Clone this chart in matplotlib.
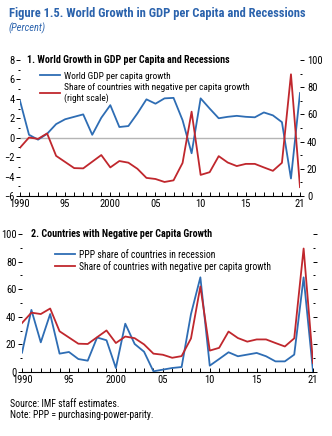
import matplotlib.pyplot as plt
from matplotlib import font_manager
import numpy as np


def pick_font():
    # narrow face with static regular + bold files
    prefs = ['Liberation Sans Narrow', 'Roboto Condensed', 'PT Sans Narrow',
             'IBM Plex Sans Condensed', 'Fira Sans Condensed', 'Open Sans Condensed',
             'Encode Sans Condensed', 'Asap Condensed', 'Barlow Condensed']
    for name in prefs:
        faces = [f for f in font_manager.fontManager.ttflist
                 if f.name == name and '[' not in f.fname and f.style == 'normal']
        ws = set()
        for f in faces:
            w = f.weight
            if isinstance(w, str):
                w = font_manager.weight_dict.get(w, 400)
            ws.add(int(w))
        if 400 in ws and 700 in ws:
            return name
    return 'Liberation Sans'


plt.rcParams['font.family'] = [pick_font(), 'DejaVu Sans']

## data
years = np.arange(1990, 2022)
# world GDP per capita growth (percent, left scale)
gdp_growth = [3.8, 0.3, -0.2, 0.4, 1.4, 1.9, 2.15, 2.4, 0.3, 2.05,
              3.35, 1.1, 1.2, 2.5, 3.95, 3.5, 4.05, 4.1, 1.8, -1.6,
              4.05, 3.0, 2.0, 2.15, 2.25, 2.15, 2.1, 2.6, 2.3, 1.6,
              -4.2, 4.6]
# share of countries with negative per capita growth (percent)
neg_share = [35.5, 43, 42, 46, 29.5, 25, 20.5, 20.3, 25.2, 30.1,
             21, 25.7, 24.5, 20, 13.3, 12.5, 10.3, 11.5, 24.3, 62,
             15.5, 17.5, 29.3, 24.6, 22, 23.6, 23.6, 21, 18.5, 24.4,
             89.5, 6.5]
# PPP share of countries in recession (percent)
ppp_share = [14, 45, 21.5, 42, 13.3, 14.5, 9.4, 8.2, 25, 23,
             2.9, 35, 20.3, 14.7, 0.5, 1.7, 2.9, 3.6, 42, 68.6,
             4.6, 9.4, 14.3, 11.4, 12.6, 13.8, 11.4, 7.7, 7.7, 12.6,
             68.6, 0.5]

xtick_pos = [1990, 1995, 2000, 2005, 2010, 2015, 2021]
xtick_lab = ['1990', '95', '2000', '05', '10', '15', '21']

blue = '#2e6db4'
red = '#c0272d'
title_blue = '#2b63ad'
fs = 7.6

fig = plt.figure(figsize=(3.32, 4.36), dpi=100)
renderer = fig.canvas.get_renderer()


def fit(t, width_px):
    w = t.get_window_extent(renderer).width
    t.set_fontsize(t.get_fontsize() * width_px / w)


def fit_legend(leg, idx, width_px):
    texts = leg.get_texts()
    w = texts[idx].get_window_extent(renderer).width
    size = texts[idx].get_fontsize() * width_px / w
    for t in texts:
        t.set_fontsize(size)


t = fig.text(0.027, 0.968, 'Figure 1.5. World Growth in GDP per Capita and Recessions',
             color=title_blue, fontsize=10, fontweight='bold', va='center')
fit(t, 297)
t = fig.text(0.027, 0.936, '(Percent)', color=title_blue, fontsize=8,
             style='italic', va='center')
fit(t, 37)


def style_axis(ax):
    for s in ['top', 'left', 'right']:
        ax.spines[s].set_visible(False)
    ax.spines['bottom'].set_linewidth(0.8)
    ax.set_xlim(1990, 2021)
    ax.set_xticks(xtick_pos)
    ax.set_xticklabels(xtick_lab)
    ax.set_xticks(years, minor=True)
    ax.tick_params(axis='x', which='both', direction='in', length=3,
                   width=0.7, labelsize=fs, pad=2)
    ax.tick_params(axis='y', which='both', length=3, width=0.7,
                   labelsize=fs, pad=1)
    ax.patch.set_alpha(0)


## panel 1
ax1 = fig.add_axes([0.0602, 0.5505, 0.8434, 0.3119])
ax1r = ax1.twinx()
style_axis(ax1)
for s in ['top', 'left', 'right', 'bottom']:
    ax1r.spines[s].set_visible(False)
ax1.set_ylim(-6, 8)
ax1.set_yticks(np.arange(-6, 9, 2))
ax1.set_yticklabels([('\u2212' + str(-v)) if v < 0 else str(v) for v in range(-6, 9, 2)])
ax1.set_yticks(np.arange(-5, 8, 2), minor=True)
ax1.tick_params(axis='y', which='minor', length=1.5)
ax1r.set_ylim(0, 100)
ax1r.set_yticks(np.arange(0, 101, 20))
ax1r.set_yticks(np.arange(10, 100, 20), minor=True)
ax1r.tick_params(axis='y', which='both', length=3, width=0.7, labelsize=fs, pad=2)
ax1r.tick_params(axis='y', which='minor', length=1.5)

ax1.axhline(0, color='#b5b5b5', lw=1, zorder=1)
l1, = ax1.plot(years, gdp_growth, color=blue, lw=1.3, zorder=3)
l2, = ax1r.plot(years, neg_share, color=red, lw=1.3, zorder=3)
t = ax1.text(0.025, 1.0, '1. World Growth in GDP per Capita and Recessions',
             transform=ax1.transAxes, fontsize=8, fontweight='bold', va='center')
fit(t, 201)
leg1 = ax1r.legend([l1, l2], ['World GDP per capita growth',
                              'Share of countries with negative per capita growth\n(right scale)'],
                   loc='upper left', bbox_to_anchor=(0.071, 0.915), frameon=False,
                   fontsize=fs, handlelength=1.95, handletextpad=0.35,
                   labelspacing=0.2, borderaxespad=0, borderpad=0)
fit_legend(leg1, 0, 106)

## panel 2
ax2 = fig.add_axes([0.0663, 0.1468, 0.8765, 0.3165])
style_axis(ax2)
ax2.set_ylim(0, 100)
ax2.set_yticks(np.arange(0, 101, 20))
ax2.set_yticks(np.arange(10, 100, 20), minor=True)
ax2.tick_params(axis='y', which='minor', length=1.5)
ax2.tick_params(axis='y', which='both', right=True)
ax2.plot(years, ppp_share, color=blue, lw=1.3, label='PPP share of countries in recession')
ax2.plot(years, neg_share, color=red, lw=1.3,
         label='Share of countries with negative per capita growth')
t = ax2.text(0.03, 1.0, '2. Countries with Negative per Capita Growth',
             transform=ax2.transAxes, fontsize=8, fontweight='bold', va='center')
fit(t, 180)
leg2 = ax2.legend(loc='upper left', bbox_to_anchor=(0.113, 0.885), frameon=False,
                  fontsize=fs, handlelength=1.95, handletextpad=0.35,
                  labelspacing=0.1, borderaxespad=0, borderpad=0)
fit_legend(leg2, 1, 189)

t = fig.text(0.03, 0.048, 'Note: PPP = purchasing-power-parity.', fontsize=7, va='center')
fit(t, 145)
fig.text(0.03, 0.0734, 'Source: IMF staff estimates.', fontsize=t.get_fontsize(), va='center')

plt.savefig('out.png', dpi=100)
